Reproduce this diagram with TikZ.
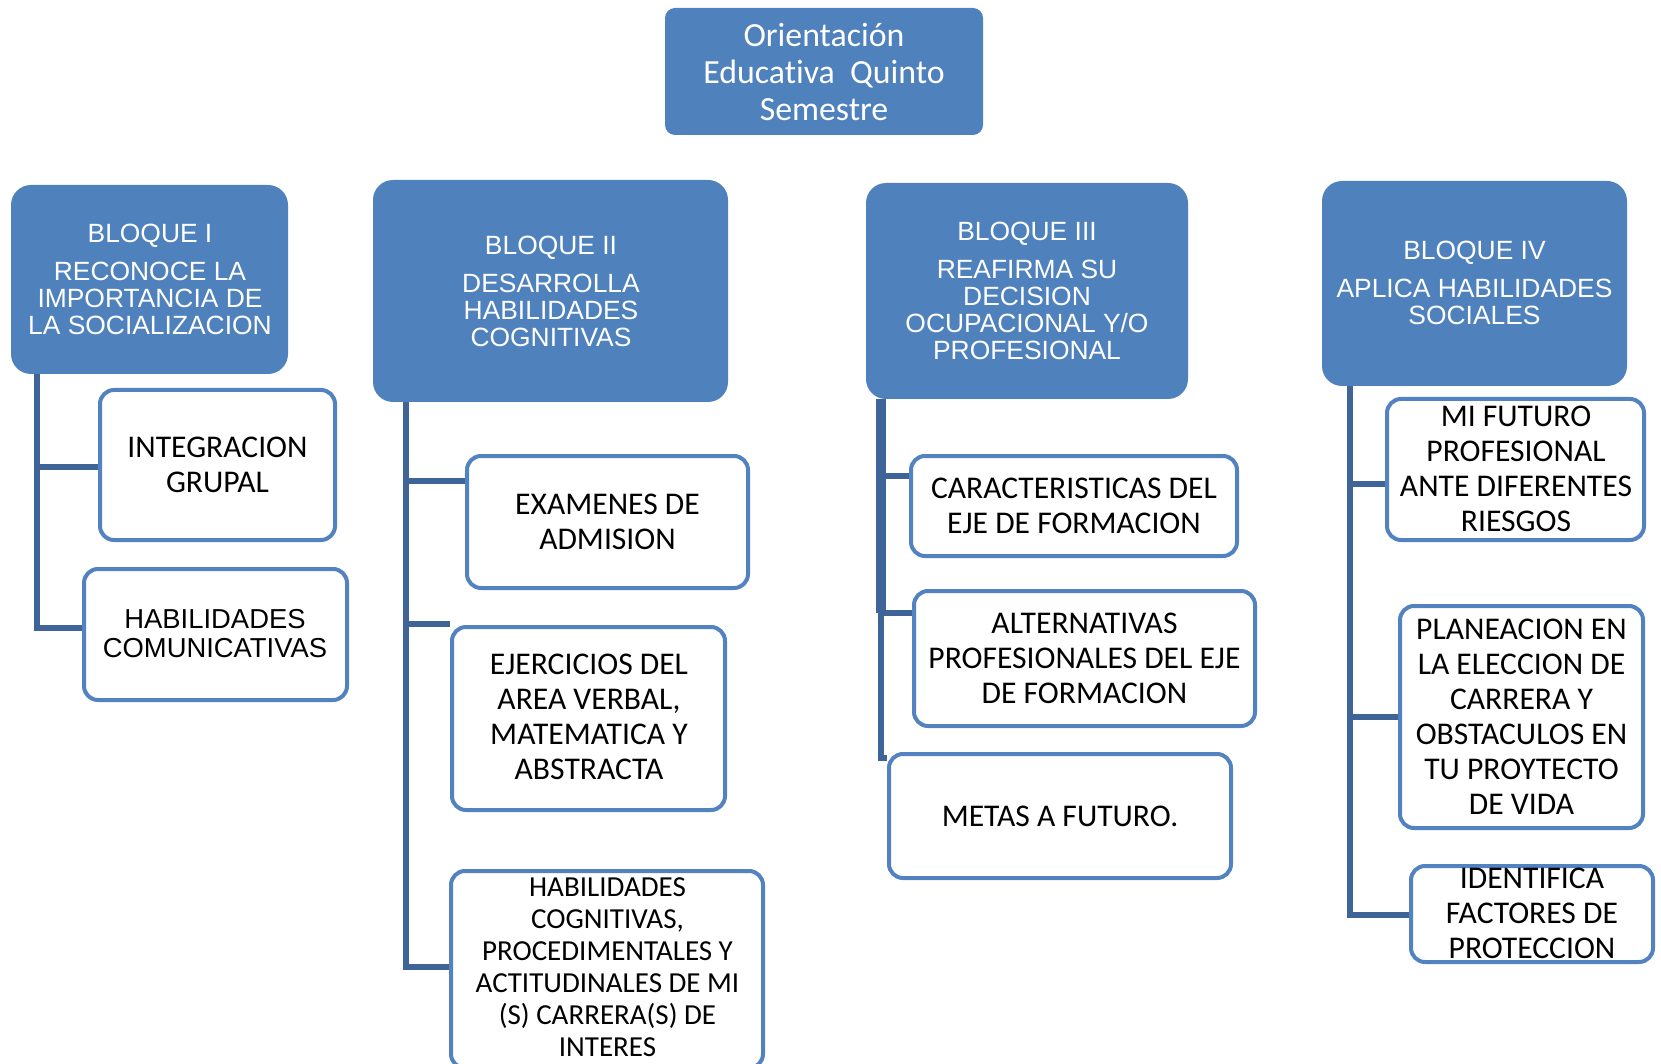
\documentclass[tikz,border=0pt]{standalone}
\usepackage{fontspec}
\setmainfont{Carlito}[Ligatures=NoCommon]
\newfontfamily\arialf{Liberation Sans}
\usetikzlibrary{fit,calc}
\definecolor{blueFill}{HTML}{4F81BD}
\definecolor{boxLine}{HTML}{5283C0}
\definecolor{connLine}{HTML}{3F6598}
\begin{document}
\begin{tikzpicture}[x=0.5pt,y=-0.5pt,
  titlebox/.style={fill=blueFill, draw=none, rounded corners=5pt, inner sep=0pt},
  bloque/.style={fill=blueFill, draw=none, rounded corners=10pt, inner sep=0pt},
  cbox/.style={fill=white, draw=boxLine, line width=2pt, rounded corners=7pt, inner sep=0pt},
  titletext/.style={text=white, align=center, inner sep=0pt, font=\fontsize{16.9pt}{18.5pt}\selectfont},
  btext/.style={text=white, align=center, inner sep=0pt, font=\arialf\fontsize{13.2pt}{13.5pt}\selectfont},
  ctext/.style={text=black, align=center, inner sep=0pt, font=\fontsize{15.8pt}{17.5pt}\selectfont},
  conn/.style={draw=connLine, line width=2.6pt, line join=miter}
]
\useasboundingbox (0,0) rectangle (1661,1064);

% title
\node[titlebox, fit={(665,8) (983,135)}] (title) {};
\node[titletext] (titlet) at (824,72) {Orientación\\Educativa\ \ Quinto\\Semestre};

% bloques
\node[bloque, fit={(11,185) (288,374)}] (b1) {};
\node[bloque, fit={(373,180) (728,402)}] (b2) {};
\node[bloque, fit={(866,183) (1188,399)}] (b3) {};
\node[bloque, fit={(1322,181) (1627,386)}] (b4) {};

\node[btext] (b1t) at (150,279) {BLOQUE I\\[5.5pt]RECONOCE LA\\IMPORTANCIA DE\\LA SOCIALIZACION};
\node[btext] (b2t) at (551,291) {BLOQUE II\\[5.5pt]DESARROLLA\\HABILIDADES\\COGNITIVAS};
\node[btext] (b3t) at (1027,290.5) {BLOQUE III\\[5.5pt]REAFIRMA SU\\DECISION\\OCUPACIONAL Y/O\\PROFESIONAL};
\node[btext] (b4t) at (1474.5,283) {BLOQUE IV\\[5.5pt]APLICA HABILIDADES\\SOCIALES};

% connector coordinates
\coordinate (t11) at (37,467);
\coordinate (t12) at (37,628);
\coordinate (t21) at (406,481);
\coordinate (t22) at (406,624);
\coordinate (t23) at (406,967);
\coordinate (t31) at (881,476);
\coordinate (t32) at (881,613);
\coordinate (t33) at (881,758);
\coordinate (t41) at (1350,484);
\coordinate (t42) at (1350,717);
\coordinate (t43) at (1350,915);

% child boxes
\node[cbox, fit={(100,390) (335,540)}] (c11) {};
\node[cbox, fit={(84,569) (347,700)}] (c12) {};
\node[cbox, fit={(467,456) (748,588)}] (c21) {};
\node[cbox, fit={(452,627) (725,810)}] (c22) {};
\node[cbox, fit={(451,871) (763,1068)}] (c23) {};
\node[cbox, fit={(911,456) (1237,556)}] (c31) {};
\node[cbox, fit={(914,591) (1255,726)}] (c32) {};
\node[cbox, fit={(889,754) (1231,878)}] (c33) {};
\node[cbox, fit={(1387,399) (1644,540)}] (c41) {};
\node[cbox, fit={(1400,606) (1643,828)}] (c42) {};
\node[cbox, fit={(1411,866) (1653,962)}] (c43) {};

% connectors
\draw[conn] (t11 |- b1.south) -- (t12) -- (c12.west |- t12);
\draw[conn] (t11) -- (c11.west |- t11);
\draw[conn] (t21 |- b2.south) -- (t23) -- (c23.west |- t23);
\draw[conn] (t21) -- (c21.west |- t21);
\draw[conn] (t22) -- (c22.west |- t22);
\draw[conn, line width=5pt] (t31 |- b3.south) -- (t32);
\draw[conn] (t32) -- (t33) -- (c33.west |- t33);
\draw[conn] (t31) -- (c31.west |- t31);
\draw[conn] (t32) -- (c32.west |- t32);
\draw[conn] (t41 |- b4.south) -- (t43) -- (c43.west |- t43);
\draw[conn] (t41) -- (c41.west |- t41);
\draw[conn] (t42) -- (c42.west |- t42);

% child texts
\node[ctext] (c11t) at (217.5,465) {INTEGRACION\\GRUPAL};
\node[ctext, font=\arialf\fontsize{13.7pt}{14.5pt}\selectfont] (c12t) at (215,634) {HABILIDADES\\COMUNICATIVAS};
\node[ctext] (c21t) at (607.5,521.5) {EXAMENES DE\\ADMISION};
\node[ctext] (c22t) at (589,717) {EJERCICIOS DEL\\AREA VERBAL,\\MATEMATICA Y\\ABSTRACTA};
\node[ctext, font=\fontsize{14.5pt}{16pt}\selectfont] (c23t) at (607.5,967) {HABILIDADES\\COGNITIVAS,\\PROCEDIMENTALES Y\\ACTITUDINALES DE MI\\(S) CARRERA(S) DE\\INTERES};
\node[ctext] (c31t) at (1074,506) {CARACTERISTICAS DEL\\EJE DE FORMACION};
\node[ctext] (c32t) at (1084.5,658) {ALTERNATIVAS\\PROFESIONALES DEL EJE\\DE FORMACION};
\node[ctext] (c33t) at (1060,816) {METAS A FUTURO.};
\node[ctext] (c41t) at (1516,469) {MI FUTURO\\PROFESIONAL\\ANTE DIFERENTES\\RIESGOS};
\node[ctext] (c42t) at (1521.5,717) {PLANEACION EN\\LA ELECCION DE\\CARRERA Y\\OBSTACULOS EN\\TU PROYTECTO\\DE VIDA};
\node[ctext] (c43t) at (1532,913) {IDENTIFICA\\FACTORES DE\\PROTECCION};
\end{tikzpicture}
\end{document}
